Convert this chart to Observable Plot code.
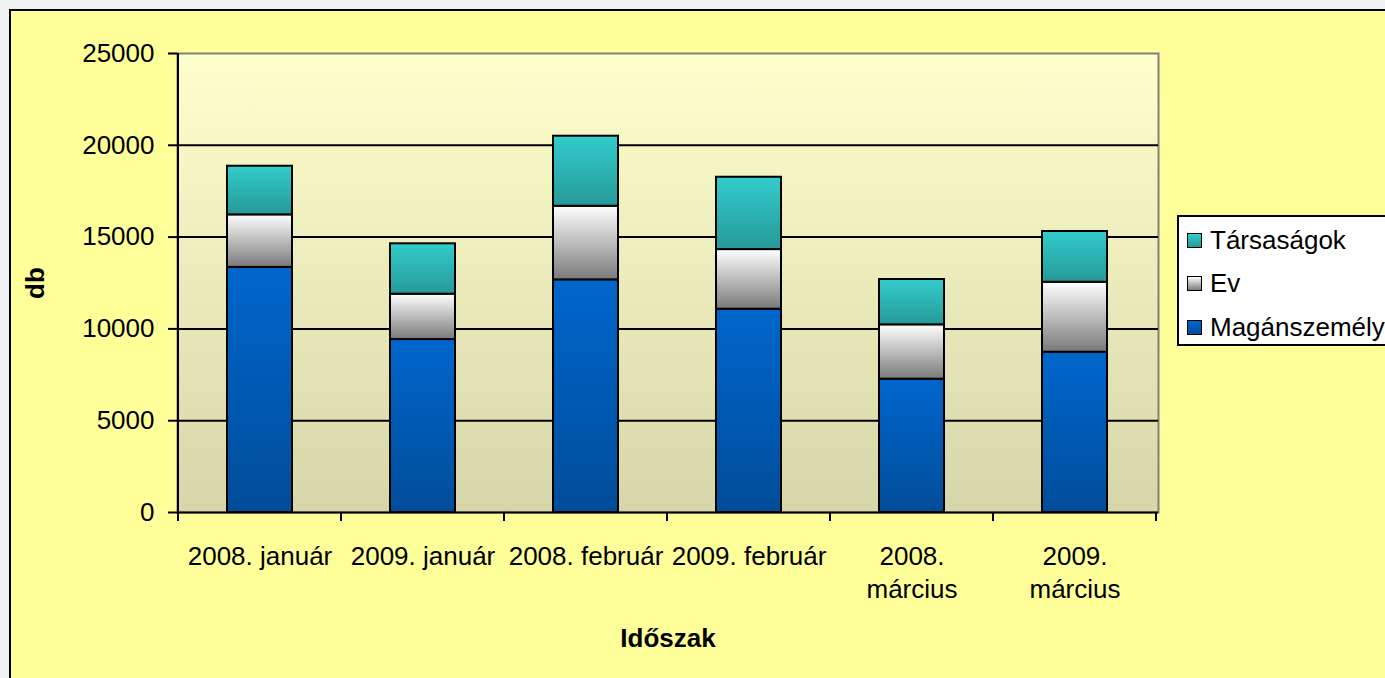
<!DOCTYPE html>
<html><head><meta charset="utf-8">
<script src="https://cdn.jsdelivr.net/npm/d3@7"></script>
<script src="https://cdn.jsdelivr.net/npm/@observablehq/plot@0.6"></script>
<style>
html,body{margin:0;padding:0;background:#f2f2f2;}
#wrap{position:relative;width:1385px;height:678px;overflow:hidden;background:#f2f2f2;font-family:"Liberation Sans",Arial,sans-serif;}
#frame{position:absolute;left:9px;top:9px;width:1420px;height:720px;border:2px solid #000;background:#FFFF99;box-sizing:border-box;}
#chart{position:absolute;left:0;top:0;}
#legend{position:absolute;left:1177px;top:215px;width:240px;height:131px;border:2px solid #000;background:#fff;box-sizing:border-box;}
.item{position:absolute;left:8px;height:30px;display:flex;align-items:center;font-size:26px;color:#000;white-space:nowrap;}
.sw{width:13px;height:13px;border:1.5px solid #000;margin-right:8px;}
[aria-label="x-axis label"] text,[aria-label="y-axis label"] text{font-weight:bold;}
</style>
</head><body>
<svg width="0" height="0" style="position:absolute">
<defs>
<linearGradient id="gBg" x1="0" y1="0" x2="0" y2="1"><stop offset="0" stop-color="#FFFFCC"/><stop offset="1" stop-color="#D7D6AA"/></linearGradient>
<linearGradient id="gMag" x1="0" y1="0" x2="0" y2="1"><stop offset="0" stop-color="#0066CC"/><stop offset="1" stop-color="#004D99"/></linearGradient>
<linearGradient id="gEv" x1="0" y1="0" x2="0" y2="1"><stop offset="0" stop-color="#FFFFFF"/><stop offset="1" stop-color="#7A7A7A"/></linearGradient>
<linearGradient id="gTar" x1="0" y1="0" x2="0" y2="1"><stop offset="0" stop-color="#33CCCC"/><stop offset="1" stop-color="#269999"/></linearGradient>
</defs>
</svg>
<div id="wrap">
  <div id="frame"></div>
  <div id="chart"></div>
  <div id="legend"></div>
</div>
<script>
const periods = ["2008. január","2009. január","2008. február","2009. február","2008. március","2009. március"];
const periodLabels = ["2008. január","2009. január","2008. február","2009. február","2008.\nmárcius","2009.\nmárcius"];
const seriesNames = ["Magánszemély","Ev","Társaságok"];
const maganValues = [13350, 9420, 12670, 11070, 7260, 8730];
const evValues = [2860, 2470, 4010, 3250, 2960, 3810];
const tarsasagokValues = [2650, 2745, 3815, 3940, 2470, 2765];
const yTicks = [0, 5000, 10000, 15000, 20000, 25000];
const legendOrder = ["Társaságok","Ev","Magánszemély"];

const seriesValues = {"Magánszemély": maganValues, "Ev": evValues, "Társaságok": tarsasagokValues};
const gradIds = {"Magánszemély":"url(#gMag)","Ev":"url(#gEv)","Társaságok":"url(#gTar)"};
const data = [];
periods.forEach((p, i) => seriesNames.forEach(s => data.push({period: p, series: s, value: seriesValues[s][i]})));

const boundaryTicks = (index, scales, values, dims) => {
  const g = d3.create("svg:g");
  const x = scales.x;
  const bw = typeof x.bandwidth === "function" ? x.bandwidth() : (x.bandwidth || 0);
  const centers = periods.map(p => x(p) + bw / 2);
  const step = centers[1] - centers[0];
  const bounds = [centers[0] - step / 2, ...centers.map(c => c + step / 2)];
  const top = dims.marginTop, bottom = dims.height - dims.marginBottom;
  g.append("line").attr("x1", bounds[0]).attr("x2", bounds[0]).attr("y1", top).attr("y2", bottom + 9)
    .attr("stroke", "#000").attr("stroke-width", 2);
  bounds.slice(1).forEach(b => g.append("line").attr("x1", b).attr("x2", b).attr("y1", bottom).attr("y2", bottom + 9)
    .attr("stroke", "#000").attr("stroke-width", 2));
  return g.node();
};

const chart = Plot.plot({
  width: 1385, height: 678,
  marginLeft: 177, marginRight: 227, marginTop: 53, marginBottom: 166,
  style: {background: "transparent", fontSize: "26px", fontFamily: "'Liberation Sans', Arial, sans-serif", color: "#000", overflow: "visible"},
  x: {domain: periods, paddingInner: 0.6, paddingOuter: 0.3},
  y: {domain: [0, 25000]},
  color: {domain: seriesNames, range: seriesNames.map(s => gradIds[s])},
  marks: [
    Plot.frame({fill: "url(#gBg)", stroke: "#808080", strokeWidth: 2}),
    Plot.gridY(yTicks.slice(1, -1), {stroke: "#000", strokeOpacity: 1, strokeWidth: 2}),
    Plot.barY(data, {x: "period", y: "value", fill: "series", order: seriesNames, stroke: "#000", strokeWidth: 2}),
    Plot.ruleY([0], {stroke: "#000", strokeWidth: 2}),
    Plot.axisY(yTicks, {tickSize: 9, tickPadding: 14, strokeWidth: 2, tickFormat: d3.format("d"),
      label: "db", labelAnchor: "center", labelOffset: 152, labelArrow: "none"}),
    Plot.axisX({tickSize: 0, tickPadding: 29, lineHeight: 1.27,
      tickFormat: d => periodLabels[periods.indexOf(d)],
      label: "Időszak", labelAnchor: "center", labelOffset: 134, labelArrow: "none"}),
    boundaryTicks
  ]
});
document.getElementById("chart").appendChild(chart);

const legend = document.getElementById("legend");
legendOrder.forEach((s, i) => {
  const item = document.createElement("div");
  item.className = "item";
  item.style.top = (8 + i * 43.5) + "px";
  const sw = document.createElement("div");
  sw.className = "sw";
  const grads = {"Magánszemély": "#0066CC,#004D99", "Ev": "#FFFFFF,#7A7A7A", "Társaságok": "#33CCCC,#269999"};
  sw.style.background = "linear-gradient(" + grads[s] + ")";
  const t = document.createElement("span");
  t.textContent = s;
  item.appendChild(sw); item.appendChild(t);
  legend.appendChild(item);
});
</script>
</body></html>
